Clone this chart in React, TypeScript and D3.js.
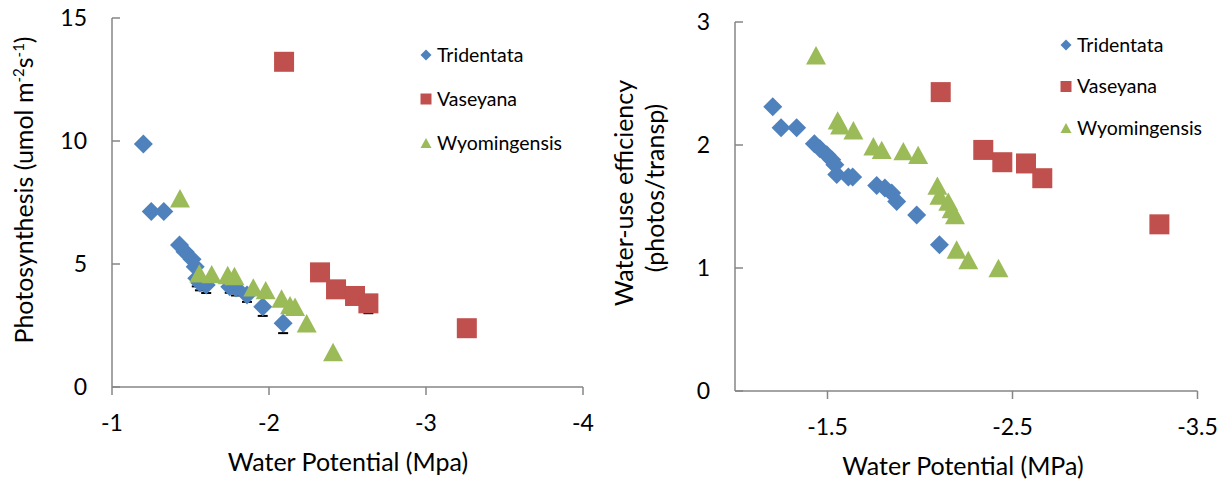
import React from "react";
import * as d3 from "d3";

// Photosynthesis vs water potential
const photoTridentataX = [-1.2, -1.25, -1.33, -1.43, -1.465, -1.51, -1.53, -1.54, -1.56, -1.6, -1.75, -1.79, -1.86, -1.96, -2.09];
const photoTridentataY = [9.88, 7.13, 7.13, 5.77, 5.5, 5.19, 4.89, 4.42, 4.23, 4.15, 4.08, 4.02, 3.74, 3.26, 2.59];
// minus-direction standard errors
const photoTridentataErr = [0, 0, 0, 0, 0, 0, 0, 0.33, 0.3, 0.33, 0.25, 0.3, 0.28, 0.37, 0.4];
const photoVaseyanaX = [-2.096, -2.325, -2.427, -2.548, -2.633, -3.26];
const photoVaseyanaY = [13.22, 4.66, 3.97, 3.7, 3.4, 2.39];
const photoVaseyanaErr = [0, 0, 0, 0, 0.4, 0];
const photoWyomingX = [-1.433, -1.556, -1.635, -1.737, -1.78, -1.9, -1.979, -2.08, -2.134, -2.166, -2.24, -2.408];
const photoWyomingY = [7.67, 4.62, 4.59, 4.55, 4.51, 4.05, 3.94, 3.6, 3.33, 3.26, 2.59, 1.42];

// Water-use efficiency vs water potential
const wueTridentataX = [-1.204, -1.249, -1.333, -1.429, -1.459, -1.496, -1.523, -1.54, -1.55, -1.613, -1.636, -1.766, -1.81, -1.847, -1.874, -1.982, -2.105];
const wueTridentataY = [2.31, 2.14, 2.14, 2.01, 1.97, 1.92, 1.88, 1.84, 1.76, 1.74, 1.74, 1.67, 1.65, 1.61, 1.54, 1.43, 1.19];
const wueVaseyanaX = [-2.112, -2.342, -2.445, -2.573, -2.661, -3.294];
const wueVaseyanaY = [2.43, 1.96, 1.86, 1.85, 1.73, 1.355];
const wueWyomingX = [-1.438, -1.555, -1.568, -1.64, -1.748, -1.793, -1.91, -1.99, -2.094, -2.105, -2.153, -2.171, -2.189, -2.198, -2.261, -2.424];
const wueWyomingY = [2.73, 2.2, 2.16, 2.12, 1.99, 1.96, 1.95, 1.92, 1.67, 1.59, 1.54, 1.48, 1.43, 1.15, 1.065, 1.0];

const seriesNames = ["Tridentata", "Vaseyana", "Wyomingensis"];
const leftXTicks = [-1, -2, -3, -4];
const leftYTicks = [0, 5, 10, 15];
const rightXTicks = [-1.5, -2.5, -3.5];
const rightYTicks = [0, 1, 2, 3];

const COLORS = ["#4F81BD", "#C0504D", "#9BBB59"];
const AXIS = "#868686";
const FONT = "Lato, 'Open Sans', sans-serif";

type Shape = "diamond" | "square" | "triangle";
const SHAPES: Shape[] = ["diamond", "square", "triangle"];

function Marker({ shape, x, y, size, color }: { shape: Shape; x: number; y: number; size: number; color: string }) {
  const h = size / 2;
  if (shape === "diamond") {
    return <path d={`M${x},${y - h}L${x + h},${y}L${x},${y + h}L${x - h},${y}Z`} fill={color} />;
  }
  if (shape === "square") {
    return <rect x={x - h} y={y - h} width={size} height={size} fill={color} />;
  }
  const th = size * 0.92;
  return <path d={`M${x},${y - th / 2}L${x + h},${y + th / 2}L${x - h},${y + th / 2}Z`} fill={color} />;
}

interface PanelProps {
  x: d3.ScaleLinear<number, number>;
  y: d3.ScaleLinear<number, number>;
  xTicks: number[];
  yTicks: number[];
  series: { xs: number[]; ys: number[]; errs?: number[] }[];
  legendX: number;
  legendY: number;
  legendGap: number;
  xTitle: string;
  xTitleX: number;
}

function Panel({ x, y, xTicks, yTicks, series, legendX, legendY, legendGap, xTitle, xTitleX }: PanelProps) {
  const [x0, x1] = x.range();
  const [y0, y1] = y.range();
  return (
    <g>
      {/* axes */}
      <line x1={x0} x2={x0} y1={y1} y2={y0} stroke={AXIS} strokeWidth={1.5} />
      <line x1={x0} x2={x1} y1={y0} y2={y0} stroke={AXIS} strokeWidth={1.5} />
      {yTicks.map((t) => (
        <g key={"y" + t}>
          <line x1={x0} x2={x0 + 8} y1={y(t)} y2={y(t)} stroke={AXIS} strokeWidth={1.5} />
          <text x={x0 - 25} y={y(t)} dy="0.35em" textAnchor="end" fontSize={23} fontFamily={FONT} fill="#000">
            {String(t)}
          </text>
        </g>
      ))}
      {xTicks.map((t) => (
        <g key={"x" + t}>
          <line x1={x(t)} x2={x(t)} y1={y0} y2={y0 + 8} stroke={AXIS} strokeWidth={1.5} />
          <text x={x(t)} y={y0 + 36} dy="0.35em" textAnchor="middle" fontSize={23} fontFamily={FONT} fill="#000">
            {String(t)}
          </text>
        </g>
      ))}
      <text x={xTitleX} y={y0 + 75} dy="0.35em" textAnchor="middle" fontSize={25} fontFamily={FONT} fill="#000">
        {xTitle}
      </text>
      {/* minus-only error bars, drawn beneath markers */}
      {series.map((s, si) =>
        s.errs
          ? s.xs.map((xv, i) =>
              s.errs![i] > 0 ? (
                <g key={`e${si}-${i}`} stroke="#000" strokeWidth={2}>
                  <line x1={x(xv)} x2={x(xv)} y1={y(s.ys[i])} y2={y(s.ys[i] - s.errs![i])} />
                  <line x1={x(xv) - 5} x2={x(xv) + 5} y1={y(s.ys[i] - s.errs![i])} y2={y(s.ys[i] - s.errs![i])} />
                </g>
              ) : null
            )
          : null
      )}
      {series.map((s, si) =>
        s.xs.map((xv, i) => (
          <Marker key={`m${si}-${i}`} shape={SHAPES[si]} x={x(xv)} y={y(s.ys[i])} size={si === 0 ? 19 : 20} color={COLORS[si]} />
        ))
      )}
      {/* legend */}
      {seriesNames.map((name, i) => (
        <g key={name}>
          <Marker shape={SHAPES[i]} x={legendX} y={legendY + i * legendGap} size={11} color={COLORS[i]} />
          <text x={legendX + 11} y={legendY + i * legendGap} dy="0.35em" fontSize={19.5} fontFamily={FONT} fill="#000">
            {name}
          </text>
        </g>
      ))}
    </g>
  );
}

export default function App() {
  const lx = d3.scaleLinear().domain([-1, -4]).range([112, 583]);
  const ly = d3.scaleLinear().domain([0, 15]).range([387, 18]);
  const rx = d3.scaleLinear().domain([-1, -3.5]).range([735, 1197.5]);
  const ry = d3.scaleLinear().domain([0, 3]).range([391, 22]);

  return (
    <svg width={1232} height={483} style={{ position: "absolute", left: 0, top: 0, background: "#fff" }}>
      <rect width={1232} height={483} fill="#fff" />
      <Panel
        x={lx}
        y={ly}
        xTicks={leftXTicks}
        yTicks={leftYTicks}
        series={[
          { xs: photoTridentataX, ys: photoTridentataY, errs: photoTridentataErr },
          { xs: photoVaseyanaX, ys: photoVaseyanaY, errs: photoVaseyanaErr },
          { xs: photoWyomingX, ys: photoWyomingY },
        ]}
        legendX={426}
        legendY={55}
        legendGap={44}
        xTitle="Water Potential (Mpa)"
        xTitleX={348}
      />
      <text transform="translate(33,190) rotate(-90)" textAnchor="middle" fontSize={25} fontFamily={FONT} fill="#000">
        Photosynthesis (umol m
        <tspan fontSize={15} dy={-9}>-2</tspan>
        <tspan dy={9}>s</tspan>
        <tspan fontSize={15} dy={-9}>-1</tspan>
        <tspan dy={9}>)</tspan>
      </text>
      <Panel
        x={rx}
        y={ry}
        xTicks={rightXTicks}
        yTicks={rightYTicks}
        series={[
          { xs: wueTridentataX, ys: wueTridentataY },
          { xs: wueVaseyanaX, ys: wueVaseyanaY },
          { xs: wueWyomingX, ys: wueWyomingY },
        ]}
        legendX={1066}
        legendY={45}
        legendGap={41.5}
        xTitle="Water Potential (MPa)"
        xTitleX={963}
      />
      <text transform="translate(633,193) rotate(-90)" textAnchor="middle" fontSize={25} fontFamily={FONT} fill="#000">
        Water-use efficiency
      </text>
      <text transform="translate(664,188) rotate(-90)" textAnchor="middle" fontSize={25} fontFamily={FONT} fill="#000">
        (photos/transp)
      </text>
    </svg>
  );
}
